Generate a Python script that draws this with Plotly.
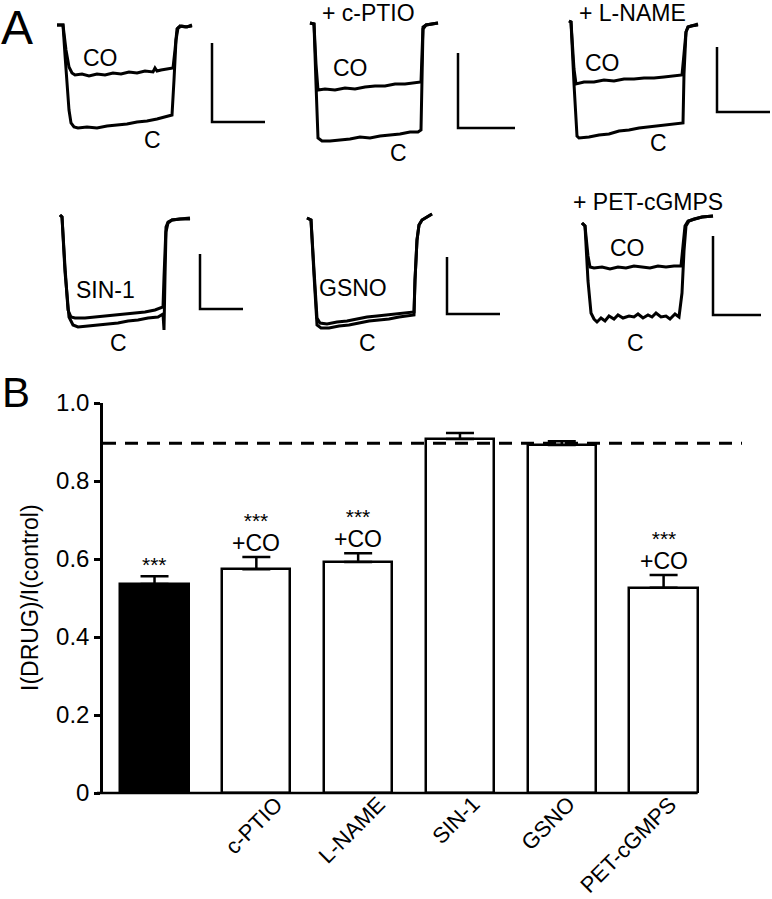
import plotly.graph_objects as go

W, H = 772, 899
FONT = "Liberation Sans, Arial, sans-serif"

# ---------------- Panel B data ----------------
bar_names = ["CO", "c-PTIO", "L-NAME", "SIN-1", "GSNO", "PET-cGMPS"]
bar_tick_labels = ["", "c-PTIO", "L-NAME", "SIN-1", "GSNO", "PET-cGMPS"]
ratio_mean = [0.536, 0.574, 0.592, 0.908, 0.892, 0.526]
ratio_sem = [0.020, 0.031, 0.023, 0.015, 0.010, 0.033]
bar_fill = ["black", "white", "white", "white", "white", "white"]
signif = ["***", "***", "***", "", "", "***"]
co_added = ["", "+CO", "+CO", "", "", "+CO"]
control_level = 0.897
y_tick_vals = [0, 0.2, 0.4, 0.6, 0.8, 1.0]
y_tick_text = ["0", "0.2", "0.4", "0.6", "0.8", "1.0"]

# ---------------- Panel A data (time a.u., current a.u.; 0 = holding) -------------
# panel 1 : control
a1_co_t = [0, 6, 9, 12, 15, 18, 25, 32, 40, 48, 56, 64, 72, 80, 88, 96, 98, 100, 104, 112, 116, 118, 120, 123, 128, 135]
a1_co_i = [0, 0, -25, -42, -48, -50, -49, -51, -49, -50, -48, -49, -47, -48, -46, -47, -43, -46, -45, -44, -43, -25, -4, -1, -2, -1]
a1_c_t = [0, 6, 8, 10, 12, 14, 17, 21, 30, 40, 50, 60, 70, 80, 90, 100, 108, 115, 117, 119, 121, 125, 130, 135]
a1_c_i = [0, 0, -30, -60, -85, -98, -102, -103, -102, -103, -101, -100, -99, -97, -96, -94, -92, -90, -55, -15, -3, -1, -2, 0]
# panel 2 : + c-PTIO
a2_co_t = [0, 4, 6, 8, 15, 25, 35, 45, 55, 65, 75, 85, 95, 105, 111, 112, 113, 116, 122, 128]
a2_co_i = [1, 0, -40, -66, -65, -66, -64, -65, -63, -62, -62, -60, -60, -59, -58, -30, -3, -1, 0, 1]
a2_c_t = [0, 4, 6, 8, 12, 20, 30, 40, 50, 60, 70, 80, 90, 100, 108, 111, 112, 113, 116, 122, 128]
a2_c_i = [1, 0, -60, -114, -117, -117, -116, -115, -113, -114, -112, -111, -110, -108, -108, -106, -60, -5, -1, 0, 1]
# panel 3 : + L-NAME
a3_co_t = [0, 2, 5, 7, 15, 25, 35, 45, 55, 65, 75, 85, 95, 105, 113, 115, 117, 119, 122, 129]
a3_co_i = [3, 2, -45, -60, -58, -58, -56, -57, -55, -55, -54, -54, -53, -52, -51, -30, -8, -3, -2, -1]
a3_c_t = [0, 2, 5, 8, 10, 20, 30, 40, 50, 60, 70, 80, 90, 100, 108, 114, 115, 117, 119, 122, 129]
a3_c_i = [3, 2, -60, -112, -114, -113, -111, -110, -107, -106, -104, -103, -102, -101, -100, -99, -50, -8, -3, -2, 0]
# panel 4 : SIN-1
a4_d_t = [0, 2, 5, 8, 11, 15, 25, 35, 45, 55, 65, 75, 85, 95, 103, 104, 105, 106, 108, 112, 120, 130]
a4_d_i = [2, 0, -50, -93, -100, -101, -101, -100, -99, -98, -97, -96, -95, -93, -90, -60, -25, -10, -5, -3, -2, -2]
a4_c_t = [0, 2, 5, 9, 13, 18, 28, 38, 48, 58, 68, 78, 88, 98, 103, 104, 105, 106, 108, 112, 120, 130]
a4_c_i = [2, 0, -55, -100, -108, -110, -109, -108, -107, -106, -104, -103, -101, -100, -97, -113, -60, -15, -6, -3, -2, -1]
# panel 5 : GSNO
a5_d_t = [0, 4, 7, 10, 13, 20, 30, 40, 50, 60, 70, 80, 90, 100, 107, 108, 110, 112, 115, 120, 125]
a5_d_i = [2, 0, -50, -98, -103, -104, -102, -101, -99, -97, -96, -95, -94, -93, -92, -60, -20, -5, 0, 3, 6]
a5_c_t = [0, 4, 7, 10, 14, 22, 32, 42, 52, 62, 72, 82, 92, 102, 107, 108, 110, 112, 115, 120, 125]
a5_c_i = [2, 0, -55, -105, -108, -108, -106, -105, -103, -101, -100, -99, -97, -96, -95, -60, -20, -5, 0, 3, 6]
# panel 6 : + PET-cGMPS
a6_co_t = [0, 3, 6, 8, 12, 20, 28, 36, 44, 52, 60, 68, 76, 84, 92, 99, 101, 103, 106, 112, 120, 131]
a6_co_i = [-2, -5, -35, -46, -47, -46, -48, -46, -47, -45, -46, -47, -45, -46, -45, -45, -25, -5, 0, 2, 4, 5]
a6_c_t = [0, 3, 6, 9, 12, 15, 19, 23, 27, 32, 36, 41, 47, 52, 56, 61, 66, 70, 74, 79, 84, 88, 93, 97, 100, 102, 104, 107, 112, 120, 131]
a6_c_i = [-2, -5, -60, -92, -98, -101, -97, -100, -95, -98, -94, -97, -95, -96, -93, -97, -94, -96, -92, -96, -95, -98, -93, -96, -72, -30, -5, 0, 2, 4, 5]

# scale bar lengths per panel (time, current)
scale_t = [53, 57, 53, 43, 53, 48]
scale_i = [79, 75, 65, 55, 57, 79]

panel_titles = ["", "+ c-PTIO", "+ L-NAME", "", "", "+ PET-cGMPS"]
trace_labels = [("CO", "C"), ("CO", "C"), ("CO", "C"), ("SIN-1", "C"), ("GSNO", "C"), ("CO", "C")]

panel_traces = [
    [(a1_co_t, a1_co_i), (a1_c_t, a1_c_i)],
    [(a2_co_t, a2_co_i), (a2_c_t, a2_c_i)],
    [(a3_co_t, a3_co_i), (a3_c_t, a3_c_i)],
    [(a4_d_t, a4_d_i), (a4_c_t, a4_c_i)],
    [(a5_d_t, a5_d_i), (a5_c_t, a5_c_i)],
    [(a6_co_t, a6_co_i), (a6_c_t, a6_c_i)],
]

# ---------------- layout helpers (positions) ----------------
panel_origin = [(57, 25), (310, 24), (569, 24), (60, 217), (307, 220), (582, 221)]
scale_corner = [(155, -97), (148, -104), (148, -88), (140, -92), (140, -94), (131, -94)]
label_pos = [
    [(43, -33), (95, -115)],
    [(40, -44), (88, -129)],
    [(33, -39), (89, -119)],
    [(45, -73), (58, -126)],
    [(46, -68), (60, -123)],
    [(45, -27), (53, -122)],
]
title_pos = [None, (58, 10.5), (63, 10.5), None, None, (66, 19)]
tick_label_xshift = [0, 34, 34, 27, 21, 21]


def px2paper_x(px):
    return px / W


def px2paper_y(py):
    return 1 - py / H


fig = go.Figure()
layout_axes = {}
annotations = []
shapes = []

T_LEFT, T_RIGHT = -8, 215
I_LOW, I_HIGH = -135, 20

for k in range(6):
    ax = k + 2
    x0, y0 = panel_origin[k]
    left_px = x0 + T_LEFT
    right_px = min(W, x0 + T_RIGHT)
    top_px = y0 - I_HIGH
    bot_px = y0 - I_LOW
    layout_axes[f"xaxis{ax}"] = dict(domain=[px2paper_x(left_px), px2paper_x(right_px)],
                                     range=[T_LEFT, right_px - x0], visible=False, automargin=False,
                                     anchor=f"y{ax}", fixedrange=True)
    layout_axes[f"yaxis{ax}"] = dict(domain=[px2paper_y(bot_px), px2paper_y(top_px)],
                                     range=[I_LOW, I_HIGH], visible=False, automargin=False,
                                     anchor=f"x{ax}", fixedrange=True)
    for (tt, ii) in panel_traces[k]:
        fig.add_trace(go.Scatter(x=tt, y=ii, mode="lines", xaxis=f"x{ax}", yaxis=f"y{ax}",
                                 line=dict(color="black", width=3),
                                 showlegend=False, hoverinfo="skip"))
    ct, ci = scale_corner[k]
    fig.add_trace(go.Scatter(x=[ct, ct, ct + scale_t[k]], y=[ci + scale_i[k], ci, ci],
                             mode="lines", xaxis=f"x{ax}", yaxis=f"y{ax}",
                             line=dict(color="black", width=2.5),
                             showlegend=False, hoverinfo="skip"))
    for lab, (lt, li) in zip(trace_labels[k], label_pos[k]):
        annotations.append(dict(x=lt, y=li, xref=f"x{ax}", yref=f"y{ax}", text=lab,
                                showarrow=False, font=dict(size=23, color="black", family=FONT),
                                xanchor="center", yanchor="middle"))
    if title_pos[k] is not None:
        tt, ti = title_pos[k]
        annotations.append(dict(x=tt, y=ti, xref=f"x{ax}", yref=f"y{ax}", text=panel_titles[k],
                                showarrow=False, font=dict(size=23, color="black", family=FONT),
                                xanchor="center", yanchor="middle", borderpad=0))

# ---------------- Panel B ----------------
bx0_px, bx1_px = 103, 742
by0_px, by1_px = 403, 793
x_range = [-0.506, 5.77]

fig.add_trace(go.Bar(
    x=list(range(len(bar_names))), y=ratio_mean, width=0.67,
    marker=dict(color=bar_fill, line=dict(color="black", width=2.5)),
    error_y=dict(type="data", array=ratio_sem, arrayminus=[0] * len(ratio_sem), symmetric=False,
                 color="black", thickness=2.5, width=14),
    xaxis="x", yaxis="y", showlegend=False, hoverinfo="skip"))

layout_axes["xaxis"] = dict(domain=[px2paper_x(bx0_px), px2paper_x(bx1_px)], range=x_range,
                            showticklabels=False, showline=False, showgrid=False, zeroline=False,
                            ticks="", anchor="y", fixedrange=True, automargin=False)
layout_axes["yaxis"] = dict(domain=[px2paper_y(by1_px), px2paper_y(by0_px)], range=[0, 1.0],
                            showline=True, linecolor="black", linewidth=2.5, ticks="outside",
                            ticklen=6, tickwidth=2.5, tickcolor="black", tickvals=y_tick_vals,
                            ticktext=y_tick_text, tickfont=dict(size=24, color="black", family=FONT),
                            showgrid=False, zeroline=False, anchor="x", fixedrange=True,
                            automargin=False)


def xval2px(v):
    return bx0_px + (v - x_range[0]) / (x_range[1] - x_range[0]) * (bx1_px - bx0_px)


shapes.append(dict(type="line", xref="paper", yref="paper",
                   x0=px2paper_x(bx0_px - 6), x1=px2paper_x(xval2px(len(bar_names) - 1 + 0.335)),
                   y0=px2paper_y(by1_px), y1=px2paper_y(by1_px),
                   line=dict(color="black", width=2.5)))
shapes.append(dict(type="line", xref="x", yref="y", x0=x_range[0], x1=x_range[1],
                   y0=control_level, y1=control_level,
                   line=dict(color="black", width=3, dash="13px,9px")))

for i in range(len(bar_names)):
    top = ratio_mean[i] + ratio_sem[i]
    if co_added[i]:
        txt = (f"<span style='font-size:21px'>{signif[i]}</span><br>"
               f"<span style='font-size:23px'>{co_added[i]}</span>")
        annotations.append(dict(x=i, y=top, xref="x", yref="y", text=txt, showarrow=False,
                                font=dict(size=18, color="black", family=FONT),
                                xanchor="center", yanchor="bottom", yshift=-1))
    elif signif[i]:
        annotations.append(dict(x=i, y=top, xref="x", yref="y", text=signif[i], showarrow=False,
                                font=dict(size=21, color="black", family=FONT),
                                xanchor="center", yanchor="middle", yshift=12))
    if bar_tick_labels[i]:
        annotations.append(dict(x=i, y=px2paper_y(by1_px), xref="x", yref="paper",
                                text=bar_tick_labels[i], showarrow=False, textangle=-45,
                                font=dict(size=22, color="black", family=FONT),
                                xanchor="right", yanchor="top",
                                xshift=tick_label_xshift[i], yshift=4))

annotations.append(dict(x=px2paper_x(30), y=px2paper_y((by0_px + by1_px) / 2), xref="paper", yref="paper",
                        text="I(DRUG)/I(control)", showarrow=False, textangle=-90,
                        font=dict(size=23, color="black", family=FONT),
                        xanchor="center", yanchor="middle"))
annotations.append(dict(x=0, y=1, xref="paper", yref="paper", text="A", showarrow=False,
                        font=dict(size=48, color="black", family=FONT), xanchor="left", yanchor="top",
                        borderpad=0))
annotations.append(dict(x=0, y=px2paper_y(392), xref="paper", yref="paper", text="B", showarrow=False,
                        font=dict(size=42, color="black", family=FONT), xanchor="left", yanchor="middle"))

fig.update_layout(width=W, height=H, margin=dict(l=0, r=0, t=0, b=0, pad=0, autoexpand=False),
                  paper_bgcolor="white", plot_bgcolor="white",
                  font=dict(family=FONT, color="black"),
                  annotations=annotations, shapes=shapes, showlegend=False, bargap=0,
                  **layout_axes)

fig.write_html("out.html", config={"displayModeBar": False},
               post_script="document.body.style.margin='0';document.body.style.overflow='hidden';")
